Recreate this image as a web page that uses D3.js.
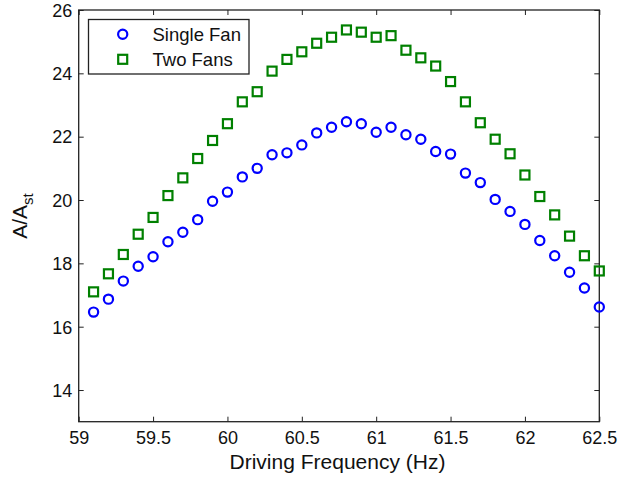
<!DOCTYPE html>
<html>
<head>
<meta charset="utf-8">
<script src="https://cdn.jsdelivr.net/npm/d3@7"></script>
<style>
  html, body { margin: 0; padding: 0; background: #fff; }
  svg { display: block; font-family: "Liberation Sans", Arial, sans-serif; }
</style>
</head>
<body>
<svg id="chart" width="619" height="479"></svg>
<script>
const freq = [59.1,59.2,59.3,59.4,59.5,59.6,59.7,59.8,59.9,60.0,
              60.1,60.2,60.3,60.4,60.5,60.6,60.7,60.8,60.9,61.0,
              61.1,61.2,61.3,61.4,61.5,61.6,61.7,61.8,61.9,62.0,
              62.1,62.2,62.3,62.4,62.5];
const singleFan = [16.46,16.87,17.44,17.91,18.21,18.68,18.98,19.38,19.96,20.25,
                   20.73,21.00,21.43,21.49,21.74,22.12,22.30,22.47,22.41,22.14,
                   22.30,22.06,21.92,21.53,21.45,20.85,20.55,20.02,19.64,19.23,
                   18.72,18.24,17.72,17.22,16.62];
const twoFans = [17.10,17.67,18.28,18.92,19.45,20.14,20.70,21.31,21.88,22.41,
                 23.10,23.42,24.07,24.44,24.68,24.95,25.14,25.37,25.30,25.14,
                 25.19,24.73,24.49,24.23,23.74,23.10,22.44,21.92,21.46,20.79,
                 20.11,19.53,18.86,18.24,17.76];
const xTicks = [59,59.5,60,60.5,61,61.5,62,62.5];
const yTicks = [14,16,18,20,22,24,26];
const seriesNames = ["Single Fan","Two Fans"];

const svg = d3.select("#chart");
const L = 78.7, R = 599.3, T = 10, B = 421.7;
const x = d3.scaleLinear().domain([59, 62.5]).range([L, R]);
const y = d3.scaleLinear().domain([13, 26]).range([B, T]);
const tickLen = 5;
const axisColor = "#222";

const g = svg.append("g");
g.append("rect").attr("x", L).attr("y", T).attr("width", R - L).attr("height", B - T)
  .attr("fill", "none").attr("stroke", axisColor).attr("stroke-width", 1.3);

const xb = g.append("g").attr("transform", `translate(0,${B})`)
  .call(d3.axisBottom(x).tickValues(xTicks).tickSizeInner(-tickLen).tickSizeOuter(0).tickPadding(10)
    .tickFormat(d => d3.format("")(d)));
const xt = g.append("g").attr("transform", `translate(0,${T})`)
  .call(d3.axisTop(x).tickValues(xTicks).tickSizeInner(-tickLen).tickSizeOuter(0).tickFormat(""));
const yl = g.append("g").attr("transform", `translate(${L},0)`)
  .call(d3.axisLeft(y).tickValues(yTicks).tickSizeInner(-tickLen).tickSizeOuter(0).tickPadding(6.5));
const yr = g.append("g").attr("transform", `translate(${R},0)`)
  .call(d3.axisRight(y).tickValues(yTicks).tickSizeInner(-tickLen).tickSizeOuter(0).tickFormat(""));

[xb, xt, yl, yr].forEach(a => {
  a.select(".domain").remove();
  a.selectAll(".tick line").attr("stroke", axisColor).attr("stroke-width", 1);
  a.selectAll("text").attr("fill", "#111").attr("font-size", 18)
    .attr("font-family", "'Liberation Sans', Arial, sans-serif");
});
xb.selectAll("text").attr("dy", "0.71em");
yl.selectAll("text").attr("dy", "0.35em");

const pts1 = freq.map((f, i) => ({f, v: singleFan[i]}));
const pts2 = freq.map((f, i) => ({f, v: twoFans[i]}));
const blue = "#0000ff", green = "#008000";
const side = 9;

g.append("g").selectAll("circle").data(pts1).join("circle")
  .attr("cx", d => x(d.f)).attr("cy", d => y(d.v)).attr("r", 4.6)
  .attr("fill", "none").attr("stroke", blue).attr("stroke-width", 2.2);

g.append("g").selectAll("rect").data(pts2).join("rect")
  .attr("x", d => x(d.f) - side / 2).attr("y", d => y(d.v) - side / 2)
  .attr("width", side).attr("height", side)
  .attr("fill", "none").attr("stroke", green).attr("stroke-width", 2.2);

const lg = svg.append("g");
lg.append("rect").attr("x", 88.5).attr("y", 19.5).attr("width", 160.5).attr("height", 54.5)
  .attr("fill", "#fff").attr("stroke", axisColor).attr("stroke-width", 1.3);
lg.append("circle").attr("cx", 122.7).attr("cy", 34.3).attr("r", 4.6)
  .attr("fill", "none").attr("stroke", blue).attr("stroke-width", 2.2);
lg.append("rect").attr("x", 122.7 - side / 2).attr("y", 59.3 - side / 2).attr("width", side).attr("height", side)
  .attr("fill", "none").attr("stroke", green).attr("stroke-width", 2.2);
lg.selectAll("text").data(seriesNames).join("text")
  .attr("x", 152.5).attr("y", (d, i) => 34.3 + i * 25).attr("dy", "0.35em")
  .attr("font-size", 18.5).attr("fill", "#111").text(d => d);

svg.append("text").attr("x", (228 + 447) / 2).attr("y", 468.5)
  .attr("text-anchor", "middle").attr("font-size", 21).attr("fill", "#111")
  .text("Driving Frequency (Hz)");

const yLab = svg.append("text")
  .attr("transform", "translate(27,216) rotate(-90)")
  .attr("text-anchor", "middle").attr("font-size", 21).attr("fill", "#111");
yLab.append("tspan").text("A/A");
yLab.append("tspan").attr("font-size", 15).attr("dy", 6).text("st");
</script>
</body>
</html>
